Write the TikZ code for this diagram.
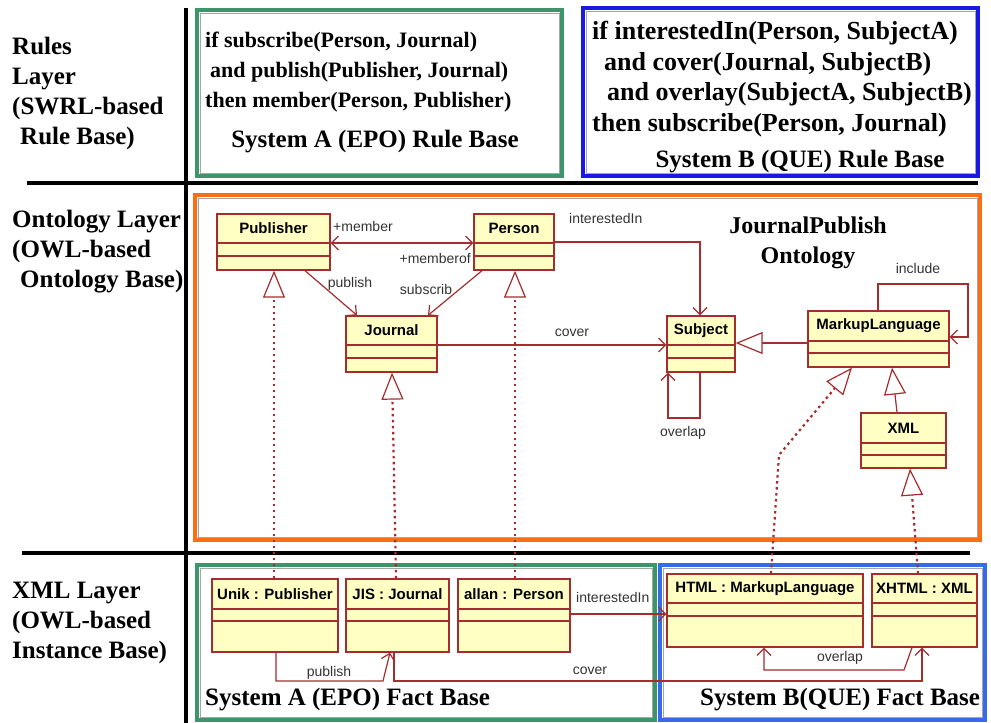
\documentclass[tikz,border=0pt]{standalone}
\usepackage{fontspec}
\setmainfont{Liberation Serif}
\newfontfamily\umlfont{Liberation Sans}
\usetikzlibrary{arrows.meta,fit,calc}

\definecolor{umlred}{RGB}{165,45,45}
\definecolor{umlfill}{RGB}{255,255,196}
\definecolor{epogreen}{RGB}{60,150,105}
\definecolor{queblue}{RGB}{25,25,230}
\definecolor{factblue}{RGB}{55,105,235}
\definecolor{ontorange}{RGB}{250,110,20}

\tikzset{
  layerline/.style={line width=4pt},
  basebox/.style={line width=3.5pt},
  inset/.style={draw=black!35, line width=0.8pt},
  umlcls/.style={draw=umlred, fill=umlfill, line width=1.3pt, inner sep=0pt},
  umltxt/.style={font=\umlfont\bfseries\fontsize{15}{17}\selectfont, inner sep=0pt},
  assoc/.style={draw=umlred, line width=1.2pt},
  barb/.tip={Straight Barb[length=7pt,width=14pt]},
  nav/.style={assoc, -barb},
  gen/.style={assoc, -{Triangle[open,length=27pt,width=22pt,fill=white]}},
  real/.style={draw=umlred, line width=2.2pt, dash pattern=on 2.5pt off 3.5pt,
    -{Triangle[open,length=27pt,width=22pt,fill=white,line width=1.2pt]}},
  lbl/.style={font=\umlfont\fontsize{14}{16}\selectfont, inner sep=1pt, text=black!80},
  layertxt/.style={font=\bfseries\fontsize{25}{30}\selectfont, align=left, inner sep=0pt, anchor=north west},
  ruletxt/.style={font=\bfseries\fontsize{22}{30}\selectfont, align=left, inner sep=0pt, anchor=north west},
  basetxt/.style={font=\bfseries\fontsize{25}{30}\selectfont, inner sep=0pt},
}

% name, text, left, top, right, bottom, first line, second line
\newcommand\umlclass[8]{%
  \node[umlcls, fit={(#3,#4) (#5,#6)}] (#1) {};
  \node[umltxt] (#1-name) at ($(#3,#4)!.5!(#5,#7)$) {#2};
  \draw[umlred, line width=1.3pt] (#3,#7) -- (#5,#7) (#3,#8) -- (#5,#8);
}

\begin{document}
\begin{tikzpicture}[x=1pt,y=-1pt]
\useasboundingbox (0,0) rectangle (991,723);

\draw[layerline] (186,8) -- (186,723);
\draw[layerline] (27,183) -- (978,183);
\draw[layerline] (22,553) -- (970,553);

\node[layertxt] (rules) at (12,37) {Rules\\Layer\\(SWRL-based\\\hspace{8pt}Rule Base)};
\node[layertxt] (onto) at (12,210) {Ontology Layer\\(OWL-based\\\hspace{8pt}Ontology Base)};
\node[layertxt] (xml) at (12,582) {XML Layer\\(OWL-based\\Instance Base)};

\draw[basebox, draw=epogreen] (197,10) rectangle (562,176);
\draw[inset] (200,13) rectangle (559,173);
\draw[basebox, draw=queblue] (583,8) rectangle (978,176);
\draw[inset] (586,11) rectangle (975,173);
\draw[basebox, draw=ontorange] (195,195) rectangle (980,540);
\draw[inset] (198,198) rectangle (977,537);
\draw[basebox, draw=epogreen] (197,565) rectangle (655,720);
\draw[inset] (200,568) rectangle (652,717);
\draw[basebox, draw=factblue] (660,565) rectangle (985,720);
\draw[inset] (663,568) rectangle (982,717);

\node[ruletxt] (ruleA) at (205,32) {if subscribe(Person, Journal)\\\hspace{5pt}and publish(Publisher, Journal)\\then member(Person, Publisher)};
\node[basetxt] (ruleAname) at (375,142) {System A (EPO) Rule Base};
\node[ruletxt, font=\bfseries\fontsize{26}{30.5}\selectfont] (ruleB) at (592,21) {if interestedIn(Person, SubjectA)\\\hspace{12pt}and cover(Journal, SubjectB)\\\hspace{15pt}and overlay(SubjectA, SubjectB)\\then subscribe(Person, Journal)};
\node[basetxt] (ruleBname) at (800,162) {System B (QUE) Rule Base};

\node[basetxt, align=center, font=\bfseries\fontsize{24}{30}\selectfont] (title) at (808,243) {JournalPublish\\Ontology};

\umlclass{pub}{Publisher}{217}{214}{330}{270}{243}{256}
\umlclass{per}{Person}{474}{214}{554}{270}{243}{256}
\umlclass{jour}{Journal}{346}{316}{437}{372}{345}{358}
\umlclass{subj}{Subject}{667}{316}{735}{372}{345}{358}
\umlclass{ml}{MarkupLanguage}{808}{311}{949}{367}{341}{353}
\umlclass{xmlc}{XML}{861}{413}{946}{468}{443}{455}

\draw[assoc, barb-barb] (pub.east |- 0,243) -- (per.west |- 0,243);
\node[lbl, anchor=west] (member) at (332,226) {+member};
\node[lbl, anchor=east] (memberof) at (472,258) {+memberof};
\draw[nav] (305,0 |- pub.south) -- (357,0 |- jour.north);
\node[lbl] (publish) at (350,284) {publish};
\draw[nav] (482,0 |- per.south) -- (428,0 |- jour.north);
\node[lbl] (subscrib) at (426,289) {subscrib};
\draw[nav] (per.east |- 0,242) -- (700,242) -- (700,0 |- subj.north);
\node[lbl, anchor=west] (interest) at (568,218) {interestedIn};
\draw[nav] (jour.east |- 0,345) -- (subj.west |- 0,345);
\node[lbl] (cover) at (572,333) {cover};
\draw[nav] (700,0 |- subj.south) -- (700,418) -- (668,418) -- (668,0 |- subj.south);
\node[lbl] (overlap) at (683,433) {overlap};
\draw[gen] (ml.west |- 0,343) -- (subj.east |- 0,343);
\draw[nav] (878,0 |- ml.north) -- (878,284) -- (968,284) -- (968,337) -- (ml.east |- 0,337);
\node[lbl] (include) at (918,268) {include};
\draw[gen] (897,0 |- xmlc.north) -- (892,0 |- ml.south);

\umlclass{unik}{Unik : Publisher}{212}{579}{338}{652}{609}{621}
\umlclass{jis}{JIS : Journal}{346}{579}{449}{652}{609}{621}
\umlclass{allan}{allan : Person}{458}{579}{570}{652}{609}{621}
\umlclass{html}{HTML : MarkupLanguage}{667}{574}{863}{647}{603}{616}
\umlclass{xhtml}{XHTML : XML}{872}{574}{977}{647}{603}{616}

\draw[real] (274,0 |- unik.north) -- (274,0 |- pub.south);
\draw[real] (396,0 |- jis.north) -- (392,0 |- jour.south);
\draw[real] (515,0 |- allan.north) -- (515,0 |- per.south);
\draw[real] (771,0 |- html.north) -- (779,455) -- (852,0 |- ml.south);
\draw[real] (918,0 |- xhtml.north) -- (910,0 |- xmlc.south);

\draw[nav] (276,0 |- unik.south) -- (276,681) -- (383,681) -- (390,0 |- jis.south);
\node[lbl] (ipublish) at (329,673) {publish};
\draw[nav] (394,0 |- jis.south) -- (394,681) -- (922,681) -- (922,0 |- xhtml.south);
\node[lbl] (icover) at (590,671) {cover};
\draw[nav] (allan.east |- 0,614) -- (html.west |- 0,614);
\node[lbl, anchor=west] (iinterest) at (575,597) {interestedIn};
\draw[nav] (912,0 |- xhtml.south) -- (904,670) -- (764,670) -- (764,0 |- html.south);
\node[lbl] (ioverlap) at (840,658) {overlap};

\node[basetxt, anchor=west] (factA) at (205,700) {System A (EPO) Fact Base};
\node[basetxt, anchor=west] (factB) at (700,700) {System B(QUE) Fact Base};
\end{tikzpicture}
\end{document}
